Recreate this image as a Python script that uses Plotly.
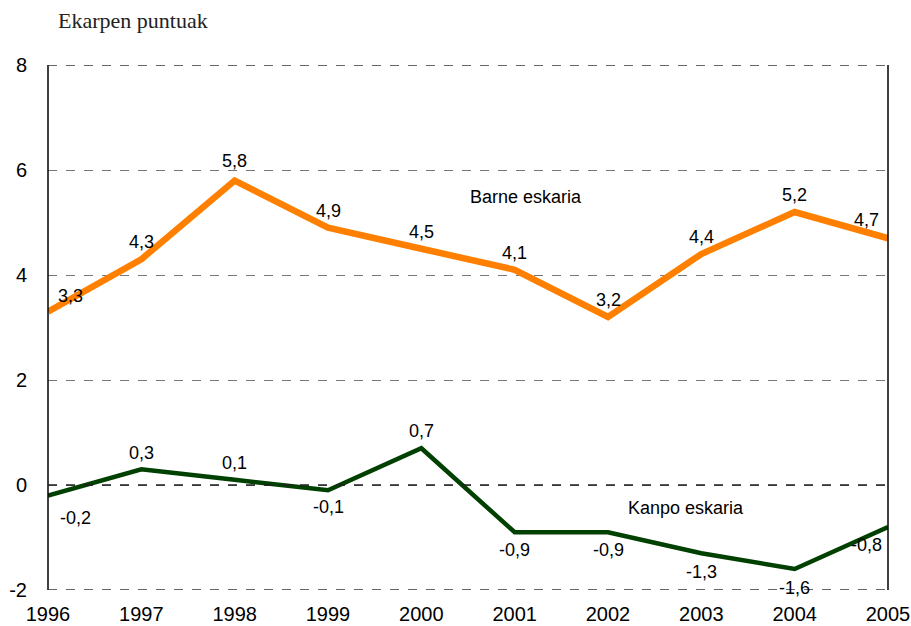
import plotly.graph_objects as go

years = [1996, 1997, 1998, 1999, 2000, 2001, 2002, 2003, 2004, 2005]
barne = [3.3, 4.3, 5.8, 4.9, 4.5, 4.1, 3.2, 4.4, 5.2, 4.7]
kanpo = [-0.2, 0.3, 0.1, -0.1, 0.7, -0.9, -0.9, -1.3, -1.6, -0.8]
y_ticks = [-2, 0, 2, 4, 6, 8]

# label offsets (px) for each point label
barne_off = [(22, 16), (0, 17), (0, 20), (0, 17), (0, 17), (0, 17), (0, 17), (0, 17), (0, 17), (-22, 18)]
kanpo_off = [(27, -22), (0, 16), (0, 17), (0, -17), (0, 17), (0, -18), (0, -18), (0, -19), (0, -19), (-22, -18)]

LBL = dict(family="Liberation Sans, Arial", size=18, color="black")

def fmt(v):
    return f"{v:.1f}".replace(".", ",")

fig = go.Figure()
fig.add_trace(go.Scatter(x=years, y=barne, mode="lines",
                         line=dict(color="#FF8000", width=6.5), showlegend=False))
fig.add_trace(go.Scatter(x=years, y=kanpo, mode="lines",
                         line=dict(color="#004000", width=4.5), showlegend=False))

ann = []
for x, v, (dx, dy) in zip(years, barne, barne_off):
    ann.append(dict(x=x, y=v, text=fmt(v), showarrow=False, xshift=dx, yshift=dy, font=LBL))
for x, v, (dx, dy) in zip(years, kanpo, kanpo_off):
    ann.append(dict(x=x, y=v, text=fmt(v), showarrow=False, xshift=dx, yshift=dy, font=LBL))
ann.append(dict(x=2001.12, y=5.48, text="Barne eskaria", showarrow=False, font=LBL))
ann.append(dict(x=2002.84, y=-0.43, text="Kanpo eskaria", showarrow=False, font=LBL))
ann.append(dict(xref="paper", yref="paper", x=0.01, y=1.0, yshift=59, xanchor="left",
                text="Ekarpen puntuak", showarrow=False,
                font=dict(family="Liberation Serif, serif", size=22, color="#222")))

# frame sides and edge / zero lines
shapes = [
    dict(type="line", xref="paper", yref="paper", x0=0, x1=0, y0=0, y1=1,
         line=dict(color="black", width=1.5)),
    dict(type="line", xref="paper", yref="paper", x0=1, x1=1, y0=0, y1=1,
         line=dict(color="black", width=1.5)),
    dict(type="line", xref="paper", yref="y", x0=0, x1=1, y0=0, y1=0,
         line=dict(color="#222", width=1.5, dash="dash")),
    dict(type="line", xref="paper", yref="y", x0=0, x1=1, y0=8, y1=8,
         line=dict(color="#333", width=1.5, dash="dash")),
    dict(type="line", xref="paper", yref="y", x0=0, x1=1, y0=-2, y1=-2,
         line=dict(color="#333", width=1.5, dash="dash")),
]

fig.update_layout(
    width=911, height=626,
    margin=dict(l=48, r=23, t=65, b=36, autoexpand=False),
    plot_bgcolor="white", paper_bgcolor="white",
    annotations=ann, shapes=shapes,
    xaxis=dict(range=[1996, 2005], tickvals=years, ticktext=[str(y) for y in years],
               showgrid=False, zeroline=False, showline=False, ticks="",
               ticklabelstandoff=10, automargin=False,
               tickfont=dict(family="Liberation Sans, Arial", size=20, color="black")),
    yaxis=dict(range=[-2, 8], tickvals=y_ticks, ticktext=[str(t) for t in y_ticks],
               showgrid=True, gridcolor="#777", griddash="dash", gridwidth=1.2,
               zeroline=False, showline=False, ticks="", ticklabelstandoff=20,
               automargin=False,
               tickfont=dict(family="Liberation Sans, Arial", size=20, color="black")),
)

fig.write_html("out.html", config={"displayModeBar": False, "responsive": False},
               post_script="document.body.style.margin='0';document.body.style.overflow='hidden';")
